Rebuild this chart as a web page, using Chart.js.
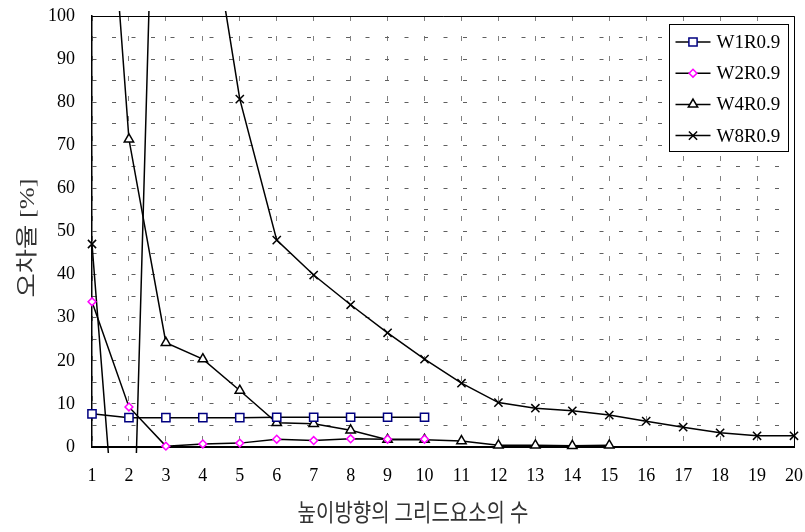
<!DOCTYPE html>
<html>
<head>
<meta charset="utf-8">
<script src="https://cdn.jsdelivr.net/npm/chart.js@4/dist/chart.umd.min.js"></script>
<style>
  html, body { margin: 0; padding: 0; background: #fff; }
  #wrap { width: 805px; height: 532px; }
</style>
</head>
<body>
<div id="wrap"><canvas id="c" width="805" height="532"></canvas></div>
<script>
// Number of grid elements in the height direction
const gridCounts = ['1','2','3','4','5','6','7','8','9','10','11','12','13','14','15','16','17','18','19','20'];

// Error rate [%] per mesh
const w1r09 = [7.7, 6.8, 6.8, 6.8, 6.8, 6.9, 6.9, 6.9, 6.9, 6.9];
const w2r09 = [33.7, 9.3, 0.2, 0.7, 0.9, 1.8, 1.5, 1.9, 1.8, 1.8];
const w4r09 = [188, 71.4, 24.2, 20.4, 13.1, 5.6, 5.4, 3.9, 1.7, 1.7, 1.4, 0.4, 0.4, 0.3, 0.4];
const w8r09 = [47.1, -62.5, 240, 134, 80.7, 48.0, 39.9, 33.0, 26.5, 20.4, 14.8, 10.3, 9.0, 8.4, 7.4, 6.0, 4.6, 3.3, 2.6, 2.6];

const seriesNames = ['W1R0.9', 'W2R0.9', 'W4R0.9', 'W8R0.9'];
const yTitle = '오차율 [%]';
const xTitle = '높이방향의 그리드요소의 수';

const serif = "'Liberation Serif', 'Times New Roman', serif";
const titleFont = "'Liberation Serif', 'Noto Sans CJK KR', sans-serif";

function series(label, data, style, color, radius) {
  return {
    label, data,
    borderColor: '#000',
    borderWidth: 1.5,
    tension: 0,
    pointStyle: style,
    pointRadius: radius,
    pointBorderColor: color,
    pointBackgroundColor: '#fff',
    pointBorderWidth: 1.5,
    clip: { left: 8, top: 5, right: 8, bottom: 6 }
  };
}

const datasets = [
  series(seriesNames[0], w1r09, 'rect', '#000080', 5.8),
  series(seriesNames[1], w2r09, 'rectRot', '#ff00ff', 3.9),
  series(seriesNames[2], w4r09, 'triangle', '#000', 5.4),
  series(seriesNames[3], w8r09, 'crossRot', '#000', 5.8)
];

// plot-area frame (top and right edges; left/bottom are the axis borders)
const frame = {
  id: 'frame',
  beforeDatasetsDraw(chart) {
    const { ctx, chartArea: a } = chart;
    ctx.save();
    ctx.strokeStyle = '#000';
    ctx.lineWidth = 1;
    ctx.beginPath();
    ctx.moveTo(Math.round(a.left), Math.round(a.top) + 0.5);
    ctx.lineTo(Math.round(a.right) + 0.5, Math.round(a.top) + 0.5);
    ctx.lineTo(Math.round(a.right) + 0.5, Math.round(a.bottom));
    ctx.stroke();
    ctx.restore();
  }
};

// boxed legend inside the upper-right of the plot area
const boxLegend = {
  id: 'boxLegend',
  afterDraw(chart) {
    const { ctx, chartArea: a } = chart;
    const w = 119, h = 127;
    const x0 = Math.round(a.right - 6 - w) + 0.5;
    const y0 = Math.round(a.top + 8) + 0.5;
    ctx.save();
    ctx.fillStyle = '#fff';
    ctx.fillRect(x0, y0, w, h);
    ctx.strokeStyle = '#000';
    ctx.lineWidth = 1;
    ctx.strokeRect(x0, y0, w, h);
    ctx.font = '19px ' + serif;
    ctx.textBaseline = 'middle';
    ctx.textAlign = 'left';
    chart.data.datasets.forEach((ds, i) => {
      const cy = y0 + 17.5 + i * 31.2;
      ctx.strokeStyle = '#000';
      ctx.lineWidth = 1.5;
      ctx.beginPath();
      ctx.moveTo(x0 + 6, cy);
      ctx.lineTo(x0 + 41, cy);
      ctx.stroke();
      ctx.fillStyle = '#fff';
      ctx.strokeStyle = ds.pointBorderColor;
      ctx.lineWidth = ds.pointBorderWidth;
      Chart.helpers.drawPoint(ctx, { pointStyle: ds.pointStyle, radius: ds.pointRadius, borderWidth: ds.pointBorderWidth, rotation: 0 }, x0 + 23.5, cy);
      ctx.fillStyle = '#000';
      ctx.fillText(ds.label, x0 + 47, cy + 1);
    });
    ctx.restore();
  }
};

// axis titles (Korean text, slightly condensed like the original typeface)
const axisTitles = {
  id: 'axisTitles',
  afterDraw(chart) {
    const { ctx, chartArea: a } = chart;
    ctx.save();
    ctx.fillStyle = '#333';
    ctx.textAlign = 'center';
    ctx.textBaseline = 'middle';
    ctx.font = '20px ' + titleFont;
    ctx.translate(a.left + (a.right - a.left) / 2 - 30, 515);
    ctx.scale(1, 1.2);
    ctx.fillText(xTitle, 0, 0);
    ctx.restore();

    ctx.save();
    ctx.fillStyle = '#333';
    ctx.textAlign = 'center';
    ctx.textBaseline = 'middle';
    ctx.font = '22px ' + titleFont;
    ctx.translate(28, 238);
    ctx.rotate(-Math.PI / 2);
    ctx.scale(1.2, 1);
    ctx.fillText(yTitle, 0, 0);
    ctx.restore();
  }
};

new Chart(document.getElementById('c'), {
  type: 'line',
  data: { labels: gridCounts, datasets },
  plugins: [frame, boxLegend, axisTitles],
  options: {
    responsive: false,
    animation: false,
    devicePixelRatio: 1,
    events: [],
    layout: { padding: { left: 0, top: 16, right: 11, bottom: 0 } },
    plugins: { legend: { display: false }, tooltip: { enabled: false } },
    scales: {
      x: {
        type: 'category',
        offset: false,
        afterFit(scale) {
          scale.height = 85;
          scale.paddingLeft = 0;
          scale.paddingRight = 0;
        },
        grid: { color: '#808080', lineWidth: 1, drawTicks: false },
        border: { display: true, color: '#000', width: 2, dash: [5, 15] },
        ticks: {
          autoSkip: false, maxRotation: 0, padding: 18,
          color: '#000', font: { family: serif, size: 18 }
        }
      },
      y: {
        min: 0, max: 100,
        afterFit(scale) {
          scale.width = 92;
          scale.paddingTop = 0;
          scale.paddingBottom = 0;
        },
        grid: { color: '#606060', lineWidth: 1, drawTicks: false },
        border: { display: true, color: '#000', width: 1.5, dash: [4, 15.5] },
        ticks: {
          stepSize: 5, autoSkip: false, padding: 17,
          color: '#000', font: { family: serif, size: 18 },
          callback: v => (v % 10 === 0 ? String(v) : '')
        }
      }
    }
  }
});
</script>
</body>
</html>
